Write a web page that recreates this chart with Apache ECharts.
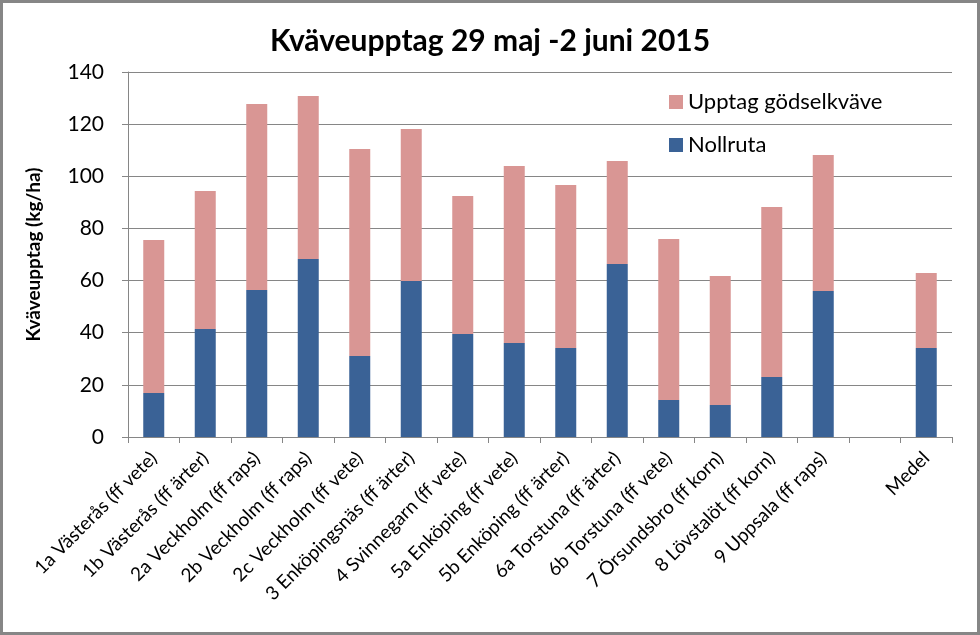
<!DOCTYPE html>
<html>
<head>
<meta charset="utf-8">
<script src="https://cdn.jsdelivr.net/npm/echarts@6/dist/echarts.min.js"></script>
<style>
  html, body { margin: 0; padding: 0; background: #fff; }
  #chart { width: 980px; height: 635px; }
</style>
</head>
<body>
<div id="chart"></div>
<script>
// kategorier (tom plats före Medel)
var categories = [
    '1a Västerås (ff vete)', '1b Västerås (ff ärter)', '2a Veckholm (ff raps)',
    '2b Veckholm (ff raps)', '2c Veckholm (ff vete)', '3 Enköpingsnäs (ff ärter)',
    '4 Svinnegarn (ff vete)', '5a Enköping (ff vete)', '5b Enköping (ff ärter)',
    '6a Torstuna (ff ärter)', '6b Torstuna (ff vete)', '7 Örsundsbro (ff korn)',
    '8 Lövstalöt (ff korn)', '9 Uppsala (ff raps)', '', 'Medel'
]
var nollruta = [16.9, 41.4, 56.4, 68.3, 31.1, 59.8, 39.5, 36.1, 34.1, 66.4, 14.2, 12.3, 23.0, 56.0, null, 34.1]
var gods = [58.7, 53.0, 71.3, 62.5, 79.4, 58.3, 52.9, 67.8, 62.6, 39.5, 61.7, 49.5, 65.2, 52.2, null, 28.8]
var yTicks = { min: 0, max: 140, interval: 20 }

var blue = '#3A6296'
var pink = '#D99694'
var gray = '#868686'
var font = 'Lato, "Open Sans", sans-serif'

var chart = echarts.init(document.getElementById('chart'))
var option = {
    animation: false,
    graphic: [{
        type: 'rect',
        shape: { x: 1.5, y: 1.5, width: 977, height: 632 },
        style: { fill: 'none', stroke: gray, lineWidth: 3 },
        silent: true
    }],
    title: {
        text: 'Kväveupptag 29 maj -2 juni 2015',
        left: 'center',
        top: 21,
        textStyle: { fontFamily: font, fontSize: 30, fontWeight: 'bold', color: '#000' }
    },
    legend: {
        data: ['Upptag gödselkväve', 'Nollruta'],
        orient: 'vertical',
        left: 664,
        top: 86,
        icon: 'rect',
        itemWidth: 14,
        itemHeight: 14,
        itemGap: 21,
        textStyle: { fontFamily: font, fontSize: 22, color: '#000', lineHeight: 22 }
    },
    grid: { left: 128, right: 28, top: 72, bottom: 198, containLabel: false },
    xAxis: {
        type: 'category',
        data: categories,
        axisLine: { lineStyle: { color: gray } },
        axisTick: { show: true, interval: 0, length: 6, lineStyle: { color: gray } },
        axisLabel: {
            interval: 0,
            rotate: 45,
            margin: 18,
            fontFamily: font,
            fontSize: 19,
            color: '#000'
        }
    },
    yAxis: {
        type: 'value',
        min: yTicks.min,
        max: yTicks.max,
        interval: yTicks.interval,
        name: 'Kväveupptag (kg/ha)',
        nameLocation: 'middle',
        nameGap: 85,
        nameTextStyle: { fontFamily: font, fontSize: 19, fontWeight: 'bold', color: '#000' },
        axisLine: { show: true, lineStyle: { color: gray } },
        axisTick: { show: true, length: 6, lineStyle: { color: gray } },
        splitLine: { lineStyle: { color: gray } },
        axisLabel: { fontFamily: font, fontSize: 21, color: '#000', margin: 24 }
    },
    series: [
        {
            name: 'Nollruta',
            type: 'bar',
            stack: 'tot',
            barWidth: 21,
            itemStyle: { color: blue },
            data: nollruta
        },
        {
            name: 'Upptag gödselkväve',
            type: 'bar',
            stack: 'tot',
            barWidth: 21,
            itemStyle: { color: pink },
            data: gods
        }
    ]
}
chart.setOption(option)
</script>
</body>
</html>
